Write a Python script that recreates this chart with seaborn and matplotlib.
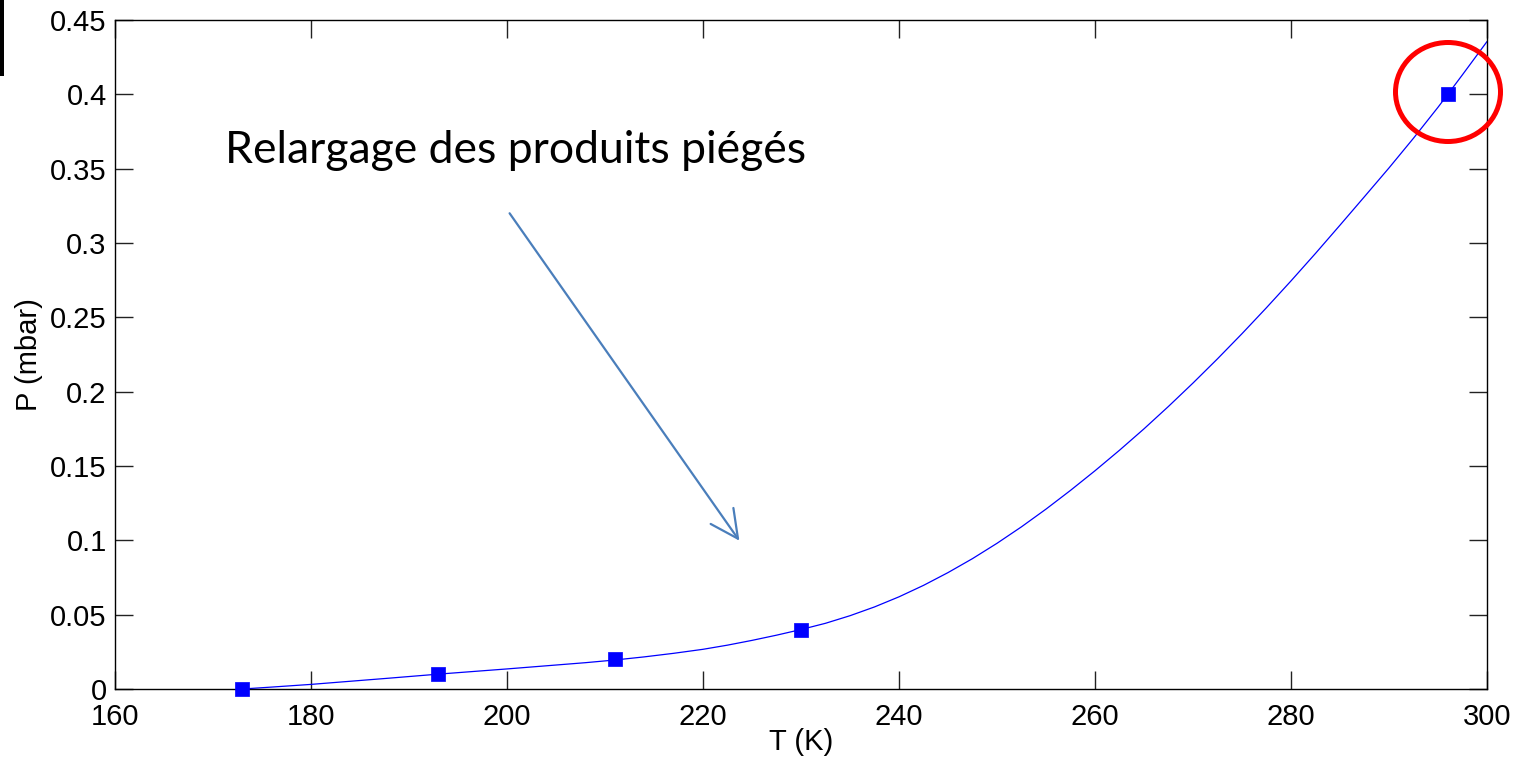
import matplotlib
matplotlib.use("Agg")
import matplotlib.pyplot as plt
from matplotlib.patches import Ellipse, Rectangle, FancyArrowPatch
import seaborn as sns
import pandas as pd

# Measured points (temperature in K, pressure in mbar)
meas_T = [173, 193, 211, 230, 296]
meas_P = [0.0, 0.01, 0.02, 0.04, 0.40]

# Fitted vapour-pressure curve
fit_T = [173, 176, 180, 184, 188, 193, 197, 200, 204, 208, 211, 214, 217,
         220, 222.5, 225, 227.5, 230, 232.5, 235, 237.5, 240, 242.5, 245,
         247.5, 250, 252.5, 255, 257.5, 260, 262.5, 265, 267.5, 270, 272.5,
         275, 277.5, 280, 282.5, 285, 287.5, 290, 292.5, 295, 296, 297.5, 300]
fit_P = [0.0, 0.0013, 0.0031, 0.0052, 0.0073, 0.0100, 0.0120, 0.0135,
         0.0156, 0.0177, 0.0195, 0.0216, 0.0240, 0.0267, 0.0295, 0.0327,
         0.0362, 0.0400, 0.0442, 0.0493, 0.0552, 0.0620, 0.0697, 0.0783,
         0.0877, 0.0980, 0.1091, 0.1210, 0.1336, 0.1468, 0.1606, 0.1750,
         0.1901, 0.2058, 0.2221, 0.2390, 0.2565, 0.2745, 0.2930, 0.3120,
         0.3312, 0.3505, 0.3705, 0.3913, 0.4000, 0.4132, 0.4355]

x_ticks = [160, 180, 200, 220, 240, 260, 280, 300]
y_ticks = [0, 0.05, 0.1, 0.15, 0.2, 0.25, 0.3, 0.35, 0.4, 0.45]
y_tick_labels = ["0", "0.05", "0.1", "0.15", "0.2", "0.25", "0.3", "0.35", "0.4", "0.45"]

annotation = "Relargage des produits piégés"

sns.set_style("ticks")
plt.rcParams["font.family"] = ["Liberation Sans", "DejaVu Sans"]

W, H = 1518, 757
fig = plt.figure(figsize=(W / 100, H / 100), dpi=100)
ax = fig.add_axes([115 / W, 1 - 689 / H, (1487 - 115) / W, (689 - 20) / H])

fit_df = pd.DataFrame({"T": fit_T, "P": fit_P})
meas_df = pd.DataFrame({"T": meas_T, "P": meas_P})

sns.lineplot(data=fit_df, x="T", y="P", ax=ax, color="#0000FF", lw=0.9,
             sort=False, estimator=None)
sns.scatterplot(data=meas_df, x="T", y="P", ax=ax, marker="s", s=100,
                color="#0000FF", edgecolor="#0000FF", linewidth=0.5,
                zorder=5, clip_on=False)

ax.set_xlim(160, 300)
ax.set_ylim(0, 0.45)
ax.set_xticks(x_ticks)
ax.set_yticks(y_ticks)
ax.set_yticklabels(y_tick_labels)
ax.tick_params(direction="in", length=13, width=1, colors="#222222",
               labelcolor="black", labelsize=21, top=True, right=True)
ax.tick_params(axis="x", pad=10)
ax.tick_params(axis="y", pad=6)
for s in ax.spines.values():
    s.set_visible(True)
    s.set_color("black")
    s.set_linewidth(1.0)

ax.set_xlabel("T (K)", fontsize=21, labelpad=-2, color="black")
ax.set_ylabel("P (mbar)", fontsize=21, labelpad=5, color="black")

# Callout text and arrow
fig.text(225 / W, 1 - 163 / H, annotation, fontsize=32, color="black",
         family=["Lato", "DejaVu Sans"], ha="left", va="baseline")
fig.add_artist(FancyArrowPatch(
    (508 / W, 1 - 211 / H), (741 / W, 1 - 543 / H),
    transform=fig.transFigure, arrowstyle="->,head_length=8,head_width=4",
    color="#4A7EBB", lw=1.6, mutation_scale=2.5))

# Red ring around the last point
fig.add_artist(Ellipse((1448 / W, 1 - 92 / H), 105 / W, 99 / H,
                       transform=fig.transFigure, fill=False,
                       edgecolor="#FF0000", lw=3.6, zorder=10))

# Black bar at the top-left edge
fig.add_artist(Rectangle((0, 1 - 76 / H), 4 / W, 76 / H,
                         transform=fig.transFigure, color="black", lw=0))

fig.savefig("out.png", dpi=100, facecolor="white")
